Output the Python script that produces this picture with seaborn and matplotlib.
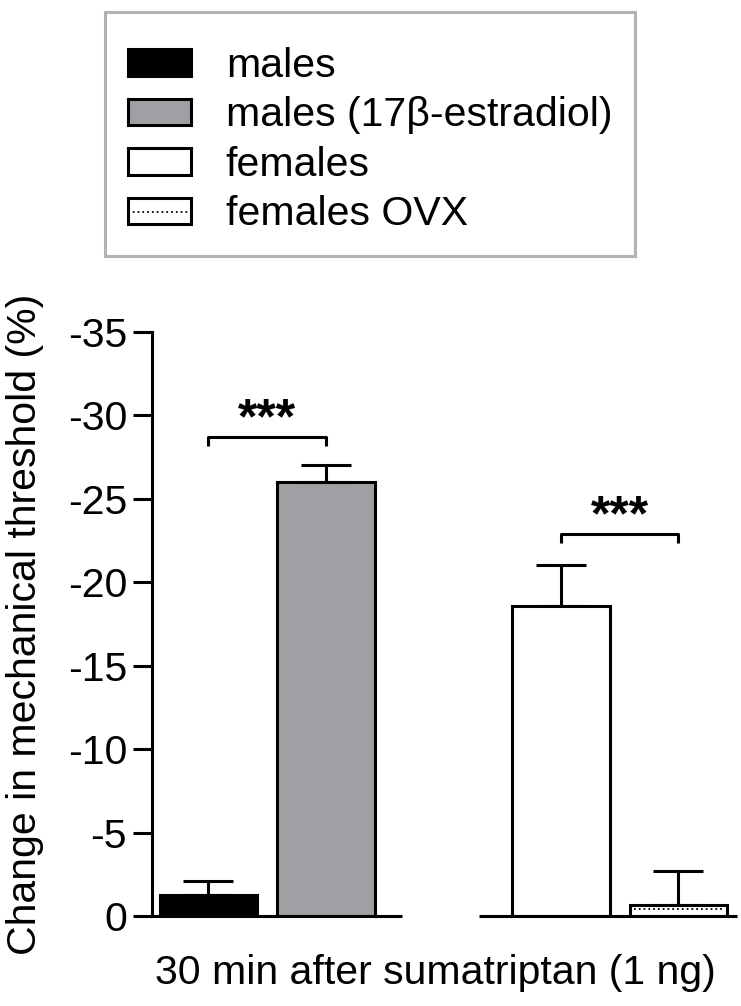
import numpy as np
import pandas as pd
import matplotlib
matplotlib.use("Agg")
import matplotlib.pyplot as plt
from matplotlib.patches import Patch
from matplotlib.lines import Line2D
import seaborn as sns

# ----------------- data -----------------
conditions = ['males', 'males (17\u03b2-estradiol)', 'females', 'females OVX']
means = [-1.25, -26.0, -18.6, -0.65]       # % change in mechanical threshold
sems = [0.85, 1.05, 2.45, 2.05]            # one-sided error (upwards)
bar_colors = ['#000000', '#a0a0a4', '#ffffff', '#ffffff']
sig_pairs = [(0, 1), (2, 3)]
sig_labels = ['***', '***']
sig_heights = [-28.7, -22.9]
yticks = [0, -5, -10, -15, -20, -25, -30, -35]
xlabel = '30 min after sumatriptan (1 ng)'
ylabel = 'Change in mechanical threshold (%)'
# ---------------------------------------------------------------

sns.set_style('ticks')
plt.rcParams['font.family'] = ['Liberation Sans', 'DejaVu Sans']
plt.rcParams['axes.unicode_minus'] = False
for k in ['text.color', 'axes.labelcolor', 'xtick.color', 'ytick.color', 'axes.edgecolor']:
    plt.rcParams[k] = 'black'

FS = 29.5
LW = 2.2

df = pd.DataFrame({'condition': conditions, 'value': means})
# blank slot between the two groups
order = conditions[:2] + [' '] + conditions[2:]

fig = plt.figure(figsize=(7.41, 10.06), dpi=100)
ax = fig.add_axes([152 / 741, 1 - 916 / 1006, (737 - 152) / 741, (916 - 332) / 1006])

sns.barplot(data=df, x='condition', y='value', hue='condition', order=order,
            hue_order=conditions, palette=dict(zip(conditions, bar_colors)),
            dodge=False, width=0.83, errorbar=None, legend=False,
            edgecolor='black', linewidth=LW, ax=ax)

bars = sorted([p for p in ax.patches if p.get_width() > 0], key=lambda p: p.get_x())
centers = [b.get_x() + b.get_width() / 2 for b in bars]

# error bars (one sided)
ax.errorbar(centers, means, yerr=[sems, np.zeros(len(sems))], fmt='none',
            ecolor='black', elinewidth=LW, capsize=18, capthick=LW, zorder=1)
for b in bars:
    b.set_zorder(2)

# dotted line inside the OVX bar
ovx = bars[3]
ax.plot([ovx.get_x() + 0.04, ovx.get_x() + ovx.get_width() - 0.04],
        [means[3] * 0.6, means[3] * 0.6], ls=':', color='black', lw=1.3, zorder=3)

# significance brackets
for (i, j), lab, h in zip(sig_pairs, sig_labels, sig_heights):
    x1, x2 = centers[i], centers[j]
    ax.plot([x1, x1, x2, x2], [h + 0.55, h, h, h + 0.55], color='black',
            lw=LW, solid_capstyle='butt', clip_on=False)
    ax.text((x1 + x2) / 2, h - 0.2, lab, ha='center', va='baseline',
            fontsize=36, fontweight='bold')

ax.set_ylim(0, -35)
ax.set_xlim(-0.48, 4.5)
ax.set_yticks(yticks)
ax.set_yticklabels([str(t) for t in yticks])
ax.set_xticks([])
ax.tick_params(axis='y', labelsize=FS, length=14, width=LW, pad=4)
ax.spines['left'].set_linewidth(LW)
for s in ['top', 'right', 'bottom']:
    ax.spines[s].set_visible(False)

# broken x axis: one segment per group
for seg in [(-0.48, 1.65), (2.30, 4.5)]:
    ax.plot(seg, [0, 0], color='black', lw=LW, clip_on=False,
            solid_capstyle='butt', zorder=4)

ax.set_xlabel(xlabel, fontsize=FS, labelpad=27)
ax.xaxis.label.set_x(0.484)
ax.set_ylabel(ylabel, fontsize=FS, labelpad=17)

# legend
handles = [Patch(facecolor=c, edgecolor='black', linewidth=LW) for c in bar_colors]
handles[3] = (handles[3], Line2D([], [], ls=':', color='black', lw=1.3))
leg = fig.legend(handles, conditions, loc='upper left',
                 bbox_to_anchor=(105 / 741, 1 - 12 / 1006), borderaxespad=0,
                 fontsize=FS, frameon=True, fancybox=False, handlelength=1.55,
                 handleheight=0.62, handletextpad=0.85, labelspacing=0.28,
                 borderpad=0.55, title=' ', title_fontsize=1)
leg.get_frame().set_edgecolor('#a0a0a0')
leg.get_frame().set_linewidth(2.2)

fig.savefig('out.png', dpi=100)
